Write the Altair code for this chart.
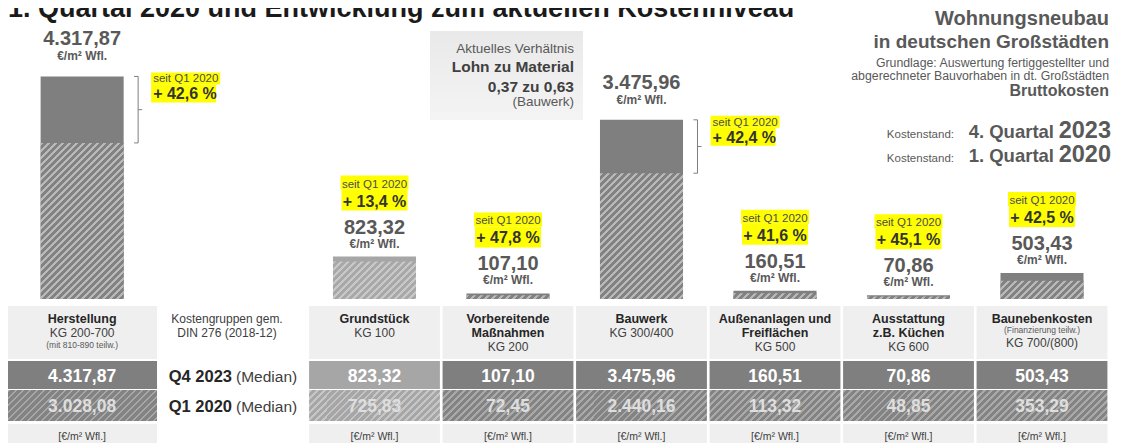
import math
import altair as alt
import pandas as pd

# ---------------- data ----------------
names = ["Herstellung", "Grundstück", "Vorbereitende Maßnahmen", "Bauwerk",
         "Außenanlagen und Freiflächen", "Ausstattung z.B. Küchen", "Baunebenkosten"]
q4_2023 = [4317.87, 823.32, 107.10, 3475.96, 160.51, 70.86, 503.43]
q1_2020 = [3028.08, 725.83, 72.45, 2440.16, 113.32, 48.85, 353.29]
head_bold = [["Herstellung"], ["Grundstück"], ["Vorbereitende", "Maßnahmen"], ["Bauwerk"],
             ["Außenanlagen und", "Freiflächen"], ["Ausstattung", "z.B. Küchen"], ["Baunebenkosten"]]
kg_codes = ["KG 200-700", "KG 100", "KG 200", "KG 300/400", "KG 500", "KG 600", "KG 700/(800)"]
kg_notes = ["(mit 810-890  teilw.)", "", "", "", "", "", "(Finanzierung teilw.)"]
side_labels = ["Herstellung", "Bauwerk"]
light_cat = "Grundstück"
unit = "€/m² Wfl."
since = "seit Q1 2020"
title = "1. Quartal 2020 und Entwicklung zum aktuellen Kostenniveau"
info_lines = ["Wohnungsneubau", "in deutschen Großstädten",
              "Grundlage: Auswertung fertiggestellter und",
              "abgerechneter Bauvorhaben in dt. Großstädten", "Bruttokosten"]
stand = [("4. Quartal", "2023"), ("1. Quartal", "2020")]
ratio_lines = ["Aktuelles  Verhältnis", "Lohn zu Material", "0,37 zu 0,63", "(Bauwerk)"]
row_labels = [("Q4 2023", "(Median)"), ("Q1 2020", "(Median)")]
kg_title = ["Kostengruppen gem.", "DIN 276 (2018-12)"]

# ---------------- layout ----------------
W, H = 1106, 435
COLW = 133.5
C0 = -0.7453
col_pos = [-0.19, 2, 3, 4, 5, 6, 7]
BASE = 291.0
K = 19.4
xs = alt.Scale(domain=[C0, C0 + W / COLW], nice=False, zero=False)
ys = alt.Scale(domain=[-(H - BASE) * K, BASE * K], nice=False, zero=False)
REG = "Liberation Sans, Arial, sans-serif"
DARK = "#7f7f7f"
LIGHT = "#a6a6a6"
CELL = "#efefef"
YEL = "#ffff00"


def yv(px):
    return (BASE - px) * K


def X(f):
    return alt.X(f, type="quantitative", scale=xs, axis=None)


def Y(f):
    return alt.Y(f, type="quantitative", scale=ys, axis=None)


def de(v):
    return f"{v:,.2f}".replace(",", "#").replace(".", ",").replace("#", ".")


def hatch(w, h, base, stripe, period=7.0, frac=0.42):
    h = max(h, 1.0)
    s = w + h
    d = w * w + h * h
    stops = []
    i = 0
    while i * period < s:
        a = i * period / s
        b = min((i + frac) * period / s, 1.0)
        e = min((i + 1) * period / s, 1.0)
        stops += [dict(offset=round(a, 5), color=stripe), dict(offset=round(b, 5), color=stripe),
                  dict(offset=round(b, 5), color=base), dict(offset=round(e, 5), color=base)]
        i += 1
    return dict(gradient="linear", x1=0, y1=0, x2=round(s * w / d, 5), y2=round(s * h / d, 5), stops=stops)


df = pd.DataFrame({"name": names, "c": col_pos, "q4": q4_2023, "q1": q1_2020})
df["zero"] = 0.0
df["b0"] = df["c"] - 0.311
df["b1"] = df["c"] + 0.311
df["pct"] = (df["q4"] / df["q1"] - 1) * 100
df["q4s"] = [de(v) for v in df["q4"]]
df["q1s"] = [de(v) for v in df["q1"]]
df["pcts"] = ["+ " + f"{p:.1f}".replace(".", ",") + " %" for p in df["pct"]]
df["mid"] = (df["q4"] + df["q1"]) / 2
df["unit"] = unit
df["since"] = since
df["side"] = df["name"].isin(side_labels)
df["light"] = df["name"] == light_cat

layers = []

# banner behind the ratio text
banner_fill = dict(gradient="linear", x1=0, y1=0, x2=0, y2=1,
                   stops=[dict(offset=0, color="#e9e9e9"), dict(offset=1, color="#f4f4f4")])
layers.append(alt.Chart(pd.DataFrame({"a": [0]})).mark_rect(fill=banner_fill).encode(
    x=alt.value(422), x2=alt.value(575), y=alt.value(23), y2=alt.value(112)))

# solid Q4 bars
layers.append(alt.Chart(df).mark_rect().encode(
    x=X("b0"), x2=alt.X2("b1"), y=Y("q4"), y2=alt.Y2("zero"),
    color=alt.condition(alt.datum.light, alt.value(LIGHT), alt.value(DARK))))

# hatched Q1 bars
for _, r in df.iterrows():
    g = hatch(83, r["q1"] / K, "#a8a8a8" if r["light"] else "#828282",
              "#c8c8c8" if r["light"] else "#b9b9b9")
    layers.append(alt.Chart(df[df["name"] == r["name"]]).mark_rect(fill=g).encode(
        x=X("b0"), x2=alt.X2("b1"), y=Y("q1"), y2=alt.Y2("zero")))

side = alt.Chart(df[df["side"]])
top = alt.Chart(df[~df["side"]])

# bracket beside the side bars
RC = "#7f7f7f"
layers.append(side.mark_rule(color=RC, strokeWidth=1, xOffset=56).encode(x=X("c"), y=Y("q4"), y2=alt.Y2("q1")))
layers.append(side.mark_rule(color=RC, strokeWidth=1, xOffset=52, x2Offset=56).encode(x=X("c"), x2=alt.X2("c"), y=Y("q4")))
layers.append(side.mark_rule(color=RC, strokeWidth=1, xOffset=52, x2Offset=56).encode(x=X("c"), x2=alt.X2("c"), y=Y("q1")))
layers.append(side.mark_rule(color=RC, strokeWidth=1, xOffset=56, x2Offset=60).encode(x=X("c"), x2=alt.X2("c"), y=Y("mid")))

# yellow highlights
layers.append(side.mark_rect(color=YEL, xOffset=69, x2Offset=138, yOffset=-4, y2Offset=8).encode(
    x=X("c"), x2=alt.X2("c"), y=Y("q4"), y2=alt.Y2("q4")))
layers.append(side.mark_rect(color=YEL, xOffset=69, x2Offset=134, yOffset=8, y2Offset=26).encode(
    x=X("c"), x2=alt.X2("c"), y=Y("q4"), y2=alt.Y2("q4")))
layers.append(top.mark_rect(color=YEL, xOffset=-34, x2Offset=34, yOffset=-81, y2Offset=-67).encode(
    x=X("c"), x2=alt.X2("c"), y=Y("q4"), y2=alt.Y2("q4")))
layers.append(top.mark_rect(color=YEL, xOffset=-33, x2Offset=33, yOffset=-67, y2Offset=-46).encode(
    x=X("c"), x2=alt.X2("c"), y=Y("q4"), y2=alt.Y2("q4")))


# labels above / beside bars
def tx(ch, field, **kw):
    base = dict(baseline="alphabetic", font=REG)
    base.update(kw)
    return ch.mark_text(**base).encode(x=X("c"), y=Y("q4"), text=alt.Text(field, type="nominal"))


layers += [
    tx(top, "since", dy=-69, fontSize=11.5, color="#4d4d4d"),
    tx(top, "pcts", dy=-50, fontSize=16, fontWeight="bold", color="#333333"),
    tx(top, "q4s", dy=-23, fontSize=20, fontWeight="bold", color="#595959"),
    tx(top, "unit", dy=-9, fontSize=12, fontWeight="bold", color="#595959"),
    tx(side, "q4s", dy=-31, fontSize=20, fontWeight="bold", color="#595959"),
    tx(side, "unit", dy=-16, fontSize=12, fontWeight="bold", color="#595959"),
    tx(side, "since", dx=71, dy=6, align="left", fontSize=11.5, color="#4d4d4d"),
    tx(side, "pcts", dx=71, dy=23, align="left", fontSize=16, fontWeight="bold", color="#333333"),
]

# ---------------- table ----------------
ROWS = {"hdr": (298, 351), "q4": (353, 381), "q1": (382, 413), "unit": (416, 440)}
cells = []
for _, r in df.iterrows():
    if r["name"] == names[0]:
        x0, x1 = C0, 0.371
    else:
        x0, x1 = r["c"] - 0.49, r["c"] + 0.49
    for kind, (a, b) in ROWS.items():
        cells.append(dict(name=r["name"], kind=kind, x0=x0, x1=x1, y0=yv(a), y1=yv(b),
                          light=bool(r["light"])))
cells = pd.DataFrame(cells)

layers.append(alt.Chart(cells[cells["kind"].isin(["hdr", "unit"])]).mark_rect(color=CELL).encode(
    x=X("x0"), x2=alt.X2("x1"), y=Y("y0"), y2=alt.Y2("y1")))
layers.append(alt.Chart(cells[cells["kind"] == "q4"]).mark_rect().encode(
    x=X("x0"), x2=alt.X2("x1"), y=Y("y0"), y2=alt.Y2("y1"),
    color=alt.condition(alt.datum.light, alt.value(LIGHT), alt.value(DARK))))
q1c = cells[cells["kind"] == "q1"]
groups = [(q1c[q1c["name"] == names[0]], 149, "#838383", "#a9a9a9"),
          (q1c[q1c["light"]], 131, "#a6a6a6", "#c6c6c6"),
          (q1c[(q1c["name"] != names[0]) & (~q1c["light"])], 131, "#838383", "#a9a9a9")]
for data, w, b, s in groups:
    layers.append(alt.Chart(data).mark_rect(fill=hatch(w, 31, b, s)).encode(
        x=X("x0"), x2=alt.X2("x1"), y=Y("y0"), y2=alt.Y2("y1")))

# table texts
L1, L2, L3 = 315, 329, 343
tl = []
for i, r in df.iterrows():
    c = r["c"]
    bold = head_bold[i]
    note_t = kg_notes[i]
    lines = []
    for j, t in enumerate(bold):
        lines.append((t, [L1, L2][j], "hb"))
    if note_t and i == 0:
        lines.append((kg_codes[i], L2, "kg"))
        lines.append((note_t, 340, "small"))
    elif note_t:
        lines.append((note_t, 325, "small"))
        lines.append((kg_codes[i], 339, "kg"))
    else:
        lines.append((kg_codes[i], [L2, L3][len(bold) - 1], "kg"))
    lines.append((r["q4s"], 374, "v4"))
    lines.append((r["q1s"], 404, "v1"))
    lines.append(("[" + unit + "]", 432, "unit"))
    for t, y, st in lines:
        tl.append(dict(c=c, t=t, y=yv(y), st=st))
tl = pd.DataFrame(tl)
styles = {
    "hb": dict(fontSize=12.5, fontWeight="bold", color="#262626"),
    "kg": dict(fontSize=12, color="#404040"),
    "small": dict(fontSize=8.5, color="#595959"),
    "v4": dict(fontSize=17.5, fontWeight="bold", color="#ffffff"),
    "v1": dict(fontSize=17.5, fontWeight="bold", color="#dedede"),
    "unit": dict(fontSize=10.5, color="#404040"),
}
for st, kw in styles.items():
    layers.append(alt.Chart(tl[tl["st"] == st]).mark_text(baseline="alphabetic", font=REG, **kw).encode(
        x=X("c"), y=Y("y"), text=alt.Text("t", type="nominal")))


# ---------------- annotations ----------------
def note(text, x, y, size, weight="normal", color="#595959", align="right", font=REG):
    return alt.Chart(pd.DataFrame({"t": [text]})).mark_text(
        align=align, baseline="alphabetic", fontSize=size, fontWeight=weight, color=color, font=font
    ).encode(x=alt.value(x), y=alt.value(y), text="t:N")


layers += [
    note(title, 0, 9, 27, "bold", "#1a1a1a", "left"),
    note(info_lines[0], 1101, 17, 20, "bold"),
    note(info_lines[1], 1101, 40, 19, "bold"),
    note(info_lines[2], 1101, 59, 12.3),
    note(info_lines[3], 1101, 72, 12.3),
    note(info_lines[4], 1101, 88, 16, "bold"),
    note(ratio_lines[0], 566, 45, 13.5),
    note(ratio_lines[1], 566, 64, 15.5, "bold", "#404040"),
    note(ratio_lines[2], 566, 84, 15.5, "bold", "#404040"),
    note(ratio_lines[3], 566, 98, 13.5),
    note(kg_title[0], 219, 315, 12, "normal", "#404040", "center"),
    note(kg_title[1], 219, 329, 12, "normal", "#404040", "center"),
]
for (q, yr), yy in zip(stand, [130, 154]):
    layers += [
        note(yr, 1103, yy, 23.5, "bold", "#595959", "right"),
        note(q, 1046, yy, 18.5, "bold", "#595959"),
        note("Kostenstand:", 946, yy, 11.5, "normal", "#595959"),
    ]
for (a, b), yy in zip(row_labels, [374, 404]):
    layers += [
        note(a, 224, yy, 16.5, "bold", "#262626", "right"),
        note(b, 228, yy, 15.5, "normal", "#404040", "left"),
    ]

chart = alt.layer(*layers).properties(
    width=W, height=H, padding=0, background="white",
    autosize=alt.AutoSizeParams(type="none"),
).configure_view(stroke=None)

chart.save("out.html", embed_options={"renderer": "svg", "actions": False})
